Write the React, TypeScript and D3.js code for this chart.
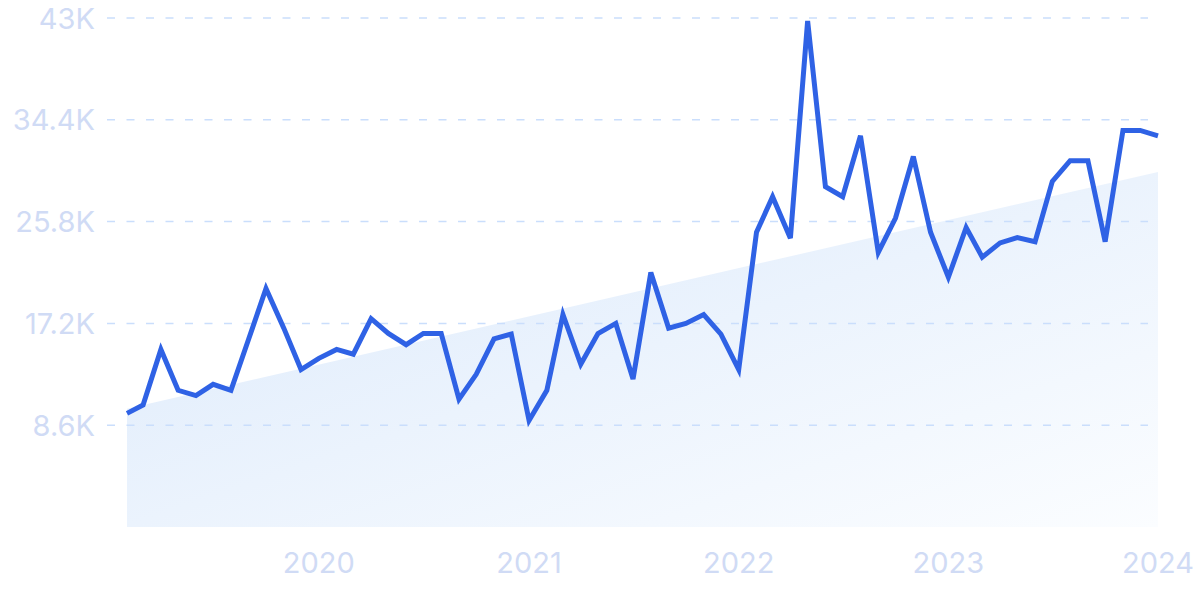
import React from "react";
import * as d3 from "d3";

// ---- data (values in thousands) ----
const startMonth = "2019-02-01";
const values: number[] = [
  9.6, 10.3, 15.0, 11.55, 11.1, 12.05, 11.55, 15.9, 20.15, 16.8, 13.3, 14.25,
  15.0, 14.6, 17.6, 16.35, 15.4, 16.35, 16.35, 10.8, 12.9, 15.9, 16.3, 9.0,
  11.55, 17.95, 13.75, 16.35, 17.2, 12.5, 21.5, 16.8, 17.2, 17.95, 16.3, 13.3,
  24.9, 27.9, 24.4, 42.75, 28.75, 27.9, 33.05, 23.2, 26.1, 31.3, 24.9, 21.1,
  25.3, 22.8, 24.0, 24.45, 24.1, 29.2, 30.95, 30.95, 24.1, 33.5, 33.5, 33.05,
];
const trendValues: number[] = [10.0, 30.0];
const yTicks: number[] = [8.6, 17.2, 25.8, 34.4, 43];
const yTickLabels: string[] = ["8.6K", "17.2K", "25.8K", "34.4K", "43K"];
const xTickYears: number[] = [2020, 2021, 2022, 2023, 2024];

const W = 1200;
const H = 599;

export default function App() {
  const start = new Date(startMonth + "T00:00:00");
  const dates = values.map((_, i) => d3.timeMonth.offset(start, i));
  const x = d3
    .scaleTime()
    .domain([dates[0], dates[dates.length - 1]])
    .range([127, 1158]);
  const y = d3.scaleLinear().domain([0, 43]).range([527, 18]);

  const line = d3
    .line<number>()
    .x((_, i) => x(dates[i]))
    .y((d) => y(d));

  const trendDates = [dates[0], dates[dates.length - 1]];
  const area = d3
    .area<number>()
    .x((_, i) => x(trendDates[i]))
    .y0(y(0))
    .y1((d) => y(d));

  const font = "Inter, 'Open Sans', sans-serif";
  const labelColor = "#d0dbf5";

  return (
    <svg
      width={W}
      height={H}
      style={{ position: "fixed", left: 0, top: 0, background: "#fff" }}
    >
      <defs>
        <linearGradient id="areaGrad" x1="0" y1="0" x2="1" y2="1">
          <stop offset="0%" stopColor="#dbe9fb" />
          <stop offset="100%" stopColor="#fbfdff" />
        </linearGradient>
      </defs>
      <path d={area(trendValues) || ""} fill="url(#areaGrad)" />
      {yTicks.map((t, i) => (
        <g key={t}>
          <line
            x1={107}
            x2={1148}
            y1={y(t)}
            y2={y(t)}
            stroke="#cadefc"
            strokeWidth={1.5}
            strokeDasharray="8 11.5"
          />
          <text
            x={95}
            y={y(t)}
            textAnchor="end"
            dominantBaseline="central"
            fontFamily={font}
            fontSize={29}
            fill={labelColor}
          >
            {yTickLabels[i]}
          </text>
        </g>
      ))}
      {xTickYears.map((yr) => (
        <text
          key={yr}
          x={x(new Date(yr, 0, 1))}
          y={573}
          textAnchor="middle"
          fontFamily={font}
          fontSize={29}
          fill={labelColor}
        >
          {yr}
        </text>
      ))}
      <path
        d={line(values) || ""}
        fill="none"
        stroke="#2f62e5"
        strokeWidth={5}
      />
    </svg>
  );
}
